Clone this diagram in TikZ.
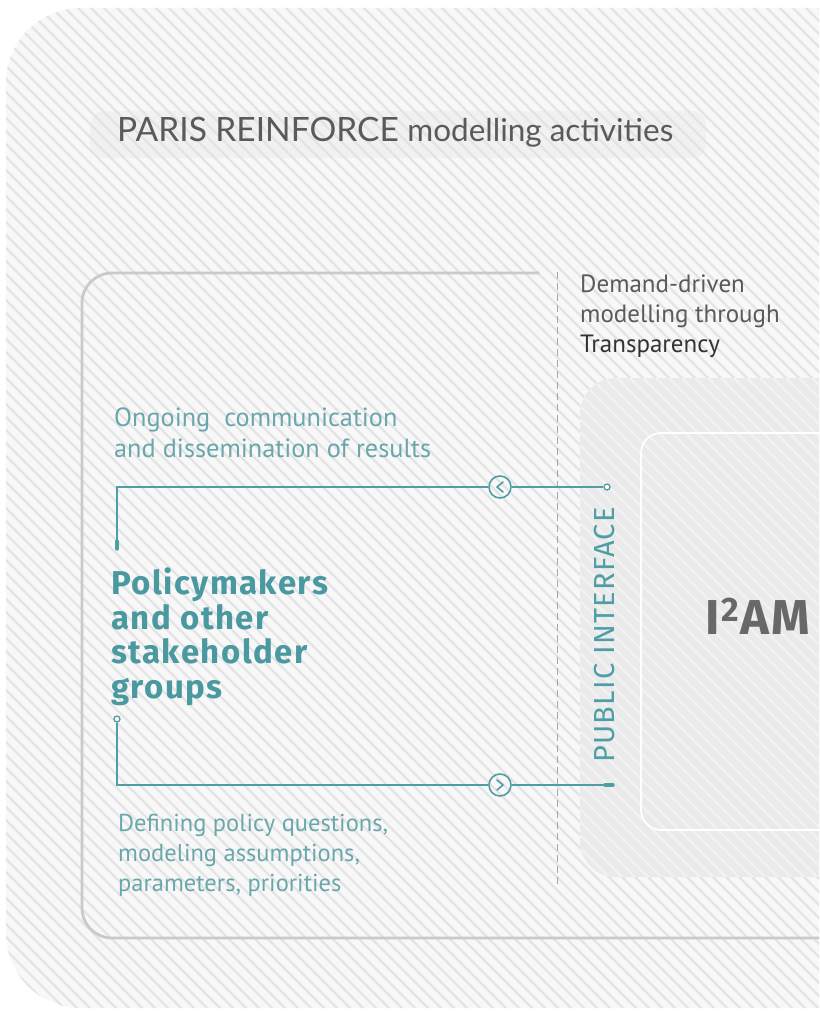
\documentclass[tikz,border=0pt]{standalone}
\usepackage{fontspec}
\setmainfont{PT Sans}
\newfontfamily\titlefont{Lato}
\newfontfamily\firafont{Fira Sans}
\newfontfamily\firaspaced{Fira Sans}[LetterSpace=4.4]
\usetikzlibrary{calc}
\definecolor{teal1}{HTML}{4F9EA6}
\definecolor{tealtext}{HTML}{6AA7AC}
\definecolor{tealbold}{HTML}{4A99A1}
\definecolor{graytext}{HTML}{5A5A5A}
\definecolor{darktext}{HTML}{333333}
\definecolor{outerfill}{HTML}{F8F8F8}
\definecolor{hatchcol}{HTML}{E4E4E4}
\definecolor{panelline}{HTML}{CACACA}
\definecolor{barfill}{HTML}{F1F1F1}
\definecolor{boxfill}{HTML}{E9E9E9}
\definecolor{amtext}{HTML}{686868}
\tikzset{
  hatch/.style={draw=hatchcol, line width=2.4pt},
  whitehatch/.style={draw=white, line width=2.4pt, opacity=0.45},
  conn/.style={draw=teal1, line width=1.6pt},
  arrowcirc/.style={circle, draw=teal1, line width=1.6pt, minimum size=22pt, inner sep=0pt},
  enddot/.style={circle, draw=teal1, line width=1.3pt, minimum size=6pt, inner sep=0pt, fill=white},
  bodytext/.style={inner sep=0pt, align=left},
}
\begin{document}
\begin{tikzpicture}[x=1pt,y=-1pt]
\useasboundingbox (0,0) rectangle (819,1011);
\clip (0,0) rectangle (819,1011);
\fill[white] (0,0) rectangle (819,1011);
% outer hatched shape
\fill[outerfill, rounded corners=75pt] (6,8) rectangle (900,1008);
\begin{scope}
  \clip[rounded corners=75pt] (6,8) rectangle (900,1008);
  % title bar
  \fill[barfill, rounded corners=14pt] (90,111) rectangle (706,158);
  \foreach \i in {-1100,-1087,...,830} {
    \draw[hatch] (\i,0) -- ++(1020,1020);
  }
  % I2AM container
  \fill[boxfill, opacity=0.9, rounded corners=36pt] (580,378) rectangle (900,877);
  \begin{scope}
    \clip[rounded corners=36pt] (580,378) rectangle (900,877);
    \foreach \i in {-1100,-1087,...,830} {
      \draw[whitehatch] (\i,0) -- ++(1020,1020);
    }
  \end{scope}
  \draw[white, line width=1.8pt, rounded corners=20pt] (641,433) rectangle (900,830);
\end{scope}
% title
\node[anchor=base west, inner sep=0pt, text=graytext, font=\titlefont\fontsize{33.5}{38}\selectfont] (title) at (117,142) {PARIS REINFORCE {\fontsize{31.5}{38}\selectfont modelling activities}};
% panel outline
\draw[panelline, line width=2.8pt, rounded corners=30pt] (539,273) -- (82,273) -- (82,938) -- (900,938);
% dashed line
\coordinate (dtop) at (557,272);
\coordinate (dbot) at (557,885);
\draw[gray!70, line width=1pt, dash pattern=on 7pt off 4pt] (dtop) -- (dbot);
% demand-driven text
\node[bodytext, anchor=base west, text=graytext, font=\fontsize{25}{30}\selectfont] (demand) at (580,352) {Demand-driven\\modelling through\\\textcolor{darktext}{Transparency}};
% I2AM
\node[anchor=base west, inner sep=0pt, text=amtext, font=\firafont\fontsize{49}{50}\selectfont\bfseries] (iam) at (705,634) {I\kern2pt\raisebox{13pt}{\fontsize{34}{34}\selectfont 2}\kern1.5pt A\kern1.5pt M};
% Ongoing text
\node[bodytext, anchor=base west, text=tealtext, font=\fontsize{26.3}{30.5}\selectfont] (ongoing) at (114,457) {Ongoing\ \ communication\\and dissemination of results};
% Policymakers
\node[anchor=base west, inner sep=0pt, align=left, text=tealbold, font=\firaspaced\fontsize{33}{34.5}\selectfont\bfseries] (policy) at (111,698) {Policymakers\\and other\\stakeholder\\groups};
% Defining text
\node[bodytext, anchor=base west, text=tealtext, font=\fontsize{24.5}{29.7}\selectfont] (defining) at (118,891) {Defining policy questions,\\modeling assumptions,\\parameters, priorities};
% Public interface
\node[rotate=90, inner sep=0pt, text=teal1, font=\firaspaced\fontsize{29}{30}\selectfont] (public) at (604,635) {PUBLIC INTERFACE};
% top connector
\coordinate (ts) at (117,549);
\coordinate (tc) at (117,487);
\node[arrowcirc] (tl) at (500,487) {};
\node[enddot] (te) at (607,487) {};
\draw[conn] (ts) -- (tc) -- (tl);
\draw[conn] (tl) -- (te);
\draw[teal1, line width=3.4pt, line cap=round] (ts) -- ++(0,-8);
\draw[teal1, line width=1.6pt, line cap=round, line join=round, shift={(tl.center)}] (3,-5) -- (-3,0) -- (3,5);
% bottom connector
\node[enddot] (bs) at (117,719) {};
\coordinate (bc) at (117,785);
\node[arrowcirc] (br) at (500,785) {};
\coordinate (be) at (613,785);
\draw[conn] (bs) -- (bc) -- (br);
\draw[conn] (br) -- (be);
\draw[teal1, line width=3.4pt, line cap=round] (be) -- ++(-8,0);
\draw[teal1, line width=1.6pt, line cap=round, line join=round, shift={(br.center)}] (-3,-5) -- (3,0) -- (-3,5);
\end{tikzpicture}
\end{document}
